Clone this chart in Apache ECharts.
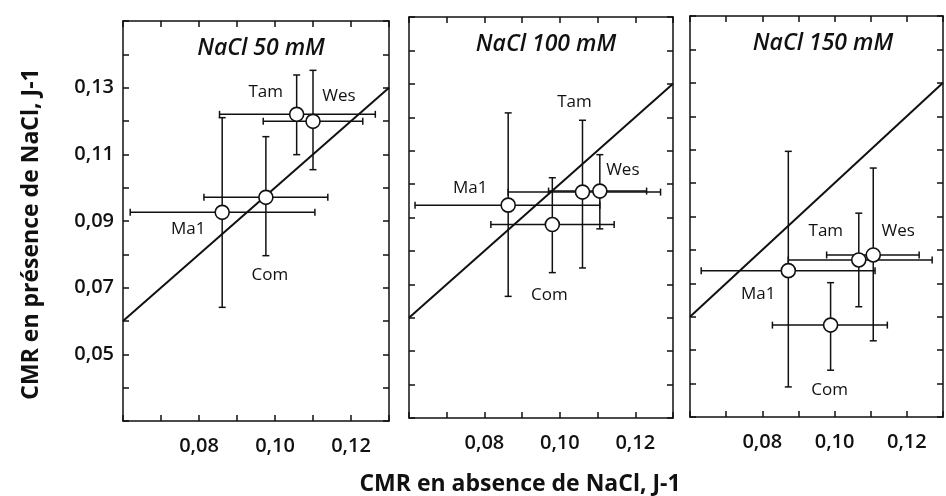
<!DOCTYPE html>
<html><head><meta charset="utf-8">
<script src="https://cdn.jsdelivr.net/npm/echarts@6/dist/echarts.min.js"></script>
<style>html,body{margin:0;padding:0;background:#fff}#c{width:946px;height:496px}</style>
</head><body><div id="c"></div>
<script>
const genotypes = ['Ma1', 'Com', 'Tam', 'Wes'];
const panelTitles = ['NaCl 50 mM', 'NaCl 100 mM', 'NaCl 150 mM'];
const xTickLabels = ['0,08', '0,10', '0,12'];
const yTickLabels = ['0,05', '0,07', '0,09', '0,11', '0,13'];
const xAxisTitle = 'CMR en absence de NaCl, J-1';
const yAxisTitle = 'CMR en présence de NaCl, J-1';
const xRange = [0.06, 0.13];
const yRange = [0.03, 0.15];
const identityLine = [0.06, 0.13];

// NaCl 50 mM
const x50    = [0.0861, 0.0976, 0.1057, 0.1100];
const y50    = [0.0926, 0.0971, 0.1220, 0.1199];
const xLo50  = [0.0619, 0.0813, 0.0854, 0.0969];
const xHi50  = [0.1105, 0.1139, 0.1264, 0.1231];
const yLo50  = [0.0641, 0.0796, 0.1099, 0.1054];
const yHi50  = [0.1210, 0.1153, 0.1338, 0.1352];
// NaCl 100 mM
const x100   = [0.0863, 0.0980, 0.1060, 0.1106];
const y100   = [0.0937, 0.0879, 0.0976, 0.0979];
const xLo100 = [0.0616, 0.0817, 0.0863, 0.0970];
const xHi100 = [0.1106, 0.1144, 0.1267, 0.1230];
const yLo100 = [0.0664, 0.0735, 0.0749, 0.0866];
const yHi100 = [0.1213, 0.1019, 0.1191, 0.1088];
// NaCl 150 mM
const x150   = [0.0872, 0.0989, 0.1067, 0.1107];
const y150   = [0.0738, 0.0575, 0.0770, 0.0785];
const xLo150 = [0.0631, 0.0828, 0.0872, 0.0978];
const xHi150 = [0.1112, 0.1146, 0.1270, 0.1234];
const yLo150 = [0.0390, 0.0440, 0.0630, 0.0528];
const yHi150 = [0.1095, 0.0702, 0.0910, 0.1045];

const panels = [
  {x: x50, y: y50, xl: xLo50, xh: xHi50, yl: yLo50, yh: yHi50},
  {x: x100, y: y100, xl: xLo100, xh: xHi100, yl: yLo100, yh: yHi100},
  {x: x150, y: y150, xl: xLo150, xh: xHi150, yl: yLo150, yh: yHi150}
];

// layout / style (not data)
const grids = [
  {left: 123, top: 21, width: 266, height: 400},
  {left: 409, top: 17, width: 264, height: 401},
  {left: 690, top: 16, width: 260, height: 401}
];
const labelOffsets = [
  [[-34, 17], [4, 78], [-31, -22], [26, -25]],
  [[-38, -17], [-3, 71], [-8, -90], [23, -21]],
  [[-30, 24], [-1, 65], [-33, -29], [25, -24]]
];
const FONT = '"Open Sans", "DejaVu Sans", sans-serif';
const INK = '#111';

const fmt = v => v.toFixed(2).replace('.', ',');

const xAxes = [], yAxes = [], series = [], titles = [];
grids.forEach((g, i) => {
  ['bottom', 'top'].forEach(pos => {
    xAxes.push({
      type: 'value', gridIndex: i, position: pos, min: xRange[0], max: xRange[1], interval: 0.01,
      axisLine: {show: true, onZero: false, lineStyle: {color: INK, width: 1.5}},
      axisTick: {show: true, inside: true, length: 6, lineStyle: {color: INK, width: 1.5}},
      splitLine: {show: false},
      axisLabel: {
        show: pos === 'bottom', margin: 15, color: INK, fontFamily: FONT, fontSize: 20, fontWeight: 600,
        formatter: v => { const s = fmt(v); return xTickLabels.includes(s) ? s : ''; }
      }
    });
  });
  ['left', 'right'].forEach(pos => {
    yAxes.push({
      type: 'value', gridIndex: i, position: pos, min: yRange[0], max: yRange[1], interval: 0.01,
      axisLine: {show: true, onZero: false, lineStyle: {color: INK, width: 1.5}},
      axisTick: {show: true, inside: true, length: 6, lineStyle: {color: INK, width: 1.5}},
      splitLine: {show: false},
      axisLabel: {
        show: pos === 'left' && i === 0, margin: 9, color: INK, fontFamily: FONT, fontSize: 20, fontWeight: 600,
        formatter: v => { const s = fmt(v); return yTickLabels.includes(s) ? s : ''; }
      }
    });
  });
  titles.push({
    text: panelTitles[i], left: g.left + g.width / 2 + (i === 2 ? -2 : 0), top: g.top + 11, textAlign: 'center',
    textStyle: {fontFamily: FONT, fontStyle: 'italic', fontWeight: 600, fontSize: 23, color: INK}
  });

  const p = panels[i];
  const xi = i * 2, yi = i * 2;
  series.push({
    type: 'line', xAxisIndex: xi, yAxisIndex: yi, z: 1, symbol: 'none', silent: true, clip: true,
    lineStyle: {color: INK, width: 2},
    data: [[identityLine[0], identityLine[0]], [identityLine[1], identityLine[1]]]
  });
  series.push({
    type: 'custom', xAxisIndex: xi, yAxisIndex: yi, z: 2, silent: true,
    data: p.x.map((v, k) => [v, p.y[k], p.xl[k], p.xh[k], p.yl[k], p.yh[k]]),
    renderItem: (params, api) => {
      const x = api.value(0), y = api.value(1);
      const L = api.coord([api.value(2), y]), R = api.coord([api.value(3), y]);
      const B = api.coord([x, api.value(4)]), T = api.coord([x, api.value(5)]);
      const c = 3.5, st = {stroke: INK, lineWidth: 1.5};
      const ln = (x1, y1, x2, y2) => ({type: 'line', shape: {x1, y1, x2, y2}, style: st});
      return {type: 'group', children: [
        ln(L[0], L[1], R[0], R[1]), ln(B[0], B[1], T[0], T[1]),
        ln(L[0], L[1] - c, L[0], L[1] + c), ln(R[0], R[1] - c, R[0], R[1] + c),
        ln(B[0] - c, B[1], B[0] + c, B[1]), ln(T[0] - c, T[1], T[0] + c, T[1])
      ]};
    }
  });
  series.push({
    type: 'scatter', xAxisIndex: xi, yAxisIndex: yi, z: 3, symbol: 'circle', symbolSize: 14,
    itemStyle: {color: '#fff', borderColor: INK, borderWidth: 1.6, opacity: 1},
    data: p.x.map((v, k) => ({
      value: [v, p.y[k]],
      label: {show: true, position: 'inside', offset: labelOffsets[i][k], formatter: genotypes[k],
        color: INK, fontFamily: FONT, fontSize: 17, fontWeight: 400}
    }))
  });
});

const chart = echarts.init(document.getElementById('c'), null, {renderer: 'canvas'});
chart.setOption({
  animation: false,
  backgroundColor: '#fff',
  title: titles,
  grid: grids.map(g => Object.assign({containLabel: false}, g)),
  xAxis: xAxes,
  yAxis: yAxes,
  series: series,
  graphic: [
    {
      type: 'text', x: 31, y: 234, rotation: Math.PI / 2,
      style: {text: yAxisTitle, fontFamily: FONT, fontWeight: 700, fontSize: 23, fill: INK, align: 'center', verticalAlign: 'middle'}
    },
    {
      type: 'text', x: 520, y: 484,
      style: {text: xAxisTitle, fontFamily: FONT, fontWeight: 700, fontSize: 23, fill: INK, align: 'center', verticalAlign: 'middle'}
    }
  ]
});
</script>
</body></html>
